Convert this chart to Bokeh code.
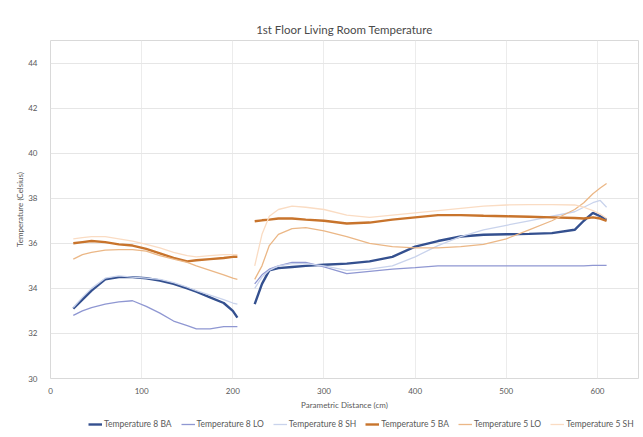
from bokeh.plotting import figure
from bokeh.models import Legend, LegendItem, Range1d, FixedTicker
from bokeh.layouts import column
from bokeh.embed import file_html
from bokeh.resources import INLINE

# Segment 1 (before the gap)
x1 = [25, 35, 45, 60, 75, 90, 105, 120, 135, 150, 160, 175, 190, 200, 205]
t8_ba_1 = [33.1, 33.5, 33.9, 34.4, 34.5, 34.5, 34.45, 34.35, 34.2, 34.0, 33.85, 33.6, 33.35, 33.0, 32.7]
t8_lo_1 = [32.8, 33.0, 33.15, 33.3, 33.4, 33.45, 33.2, 32.9, 32.55, 32.35, 32.2, 32.2, 32.3, 32.3, 32.3]
t8_sh_1 = [33.15, 33.6, 34.0, 34.45, 34.55, 34.5, 34.45, 34.4, 34.25, 34.05, 33.9, 33.7, 33.5, 33.35, 33.3]
t5_ba_1 = [36.0, 36.05, 36.1, 36.05, 35.95, 35.9, 35.75, 35.55, 35.35, 35.2, 35.25, 35.3, 35.35, 35.4, 35.4]
t5_lo_1 = [35.3, 35.5, 35.6, 35.7, 35.72, 35.72, 35.65, 35.45, 35.3, 35.15, 35.0, 34.8, 34.6, 34.45, 34.4]
t5_sh_1 = [36.2, 36.25, 36.3, 36.3, 36.2, 36.1, 35.95, 35.8, 35.6, 35.45, 35.4, 35.45, 35.5, 35.5, 35.5]

# Segment 2 (after the gap)
x2 = [224, 232, 240, 250, 265, 280, 300, 325, 350, 375, 400, 425, 450, 475, 500, 525, 550, 575, 585, 595, 603, 610]
t8_ba_2 = [33.3, 34.2, 34.8, 34.9, 34.95, 35.0, 35.05, 35.1, 35.2, 35.4, 35.85, 36.1, 36.3, 36.38, 36.4, 36.42, 36.45, 36.6, 37.0, 37.35, 37.2, 37.05]
t8_lo_2 = [34.2, 34.6, 34.85, 35.0, 35.15, 35.15, 34.95, 34.65, 34.75, 34.85, 34.92, 35.0, 35.0, 35.0, 35.0, 35.0, 35.0, 35.0, 35.0, 35.02, 35.02, 35.02]
t8_sh_2 = [34.0, 34.5, 34.8, 35.0, 35.1, 35.1, 35.0, 34.8, 34.85, 35.0, 35.4, 35.9, 36.3, 36.6, 36.8, 37.0, 37.2, 37.4, 37.6, 37.8, 37.9, 37.6]
t5_ba_2 = [36.98, 37.02, 37.05, 37.1, 37.1, 37.05, 37.0, 36.88, 36.92, 37.05, 37.15, 37.25, 37.25, 37.22, 37.2, 37.18, 37.15, 37.12, 37.1, 37.15, 37.1, 37.0]
t5_lo_2 = [34.4, 35.0, 35.9, 36.4, 36.65, 36.7, 36.55, 36.3, 36.0, 35.85, 35.8, 35.8, 35.85, 35.95, 36.2, 36.6, 37.0, 37.5, 37.8, 38.2, 38.45, 38.65]
t5_sh_2 = [35.0, 36.4, 37.2, 37.5, 37.65, 37.6, 37.5, 37.25, 37.15, 37.25, 37.35, 37.45, 37.55, 37.65, 37.7, 37.72, 37.72, 37.7, 37.6, 37.45, 37.3, 37.1]

series_names = ["Temperature 8 BA", "Temperature 8 LO", "Temperature 8 SH",
                "Temperature 5 BA", "Temperature 5 LO", "Temperature 5 SH"]

x_ticks = [0, 100, 200, 300, 400, 500, 600]
y_ticks = [30, 32, 34, 36, 38, 40, 42, 44]

colors = ["#34508f", "#8f97d2", "#c9d3ec", "#c8742c", "#ebb786", "#fadcc3"]
widths = [2.4, 1.3, 1.3, 2.4, 1.3, 1.3]

seg1 = [t8_ba_1, t8_lo_1, t8_sh_1, t5_ba_1, t5_lo_1, t5_sh_1]
seg2 = [t8_ba_2, t8_lo_2, t8_sh_2, t5_ba_2, t5_lo_2, t5_sh_2]

FONT = "Lato"
TXT = "#595959"

p = figure(frame_width=588, frame_height=338, output_backend="svg", toolbar_location=None,
           x_range=Range1d(0, 645), y_range=Range1d(30, 45),
           min_border_left=50, min_border_right=5, min_border_top=40, min_border_bottom=0,
           title="1st Floor Living Room Temperature")
p.title.align = "center"
p.title.text_font = FONT
p.title.text_font_size = "11.5px"
p.title.text_font_style = "normal"
p.title.text_color = "#4a4a4a"
p.title.offset = 0
p.title.standoff = 10

p.outline_line_color = "#d9d9d9"
p.background_fill_color = "white"
p.border_fill_color = "white"

p.xgrid.grid_line_color = "#ececec"
p.ygrid.grid_line_color = "#e6e6e6"
p.xaxis.ticker = FixedTicker(ticks=x_ticks)
p.yaxis.ticker = FixedTicker(ticks=y_ticks)

for ax in (p.xaxis[0], p.yaxis[0]):
    ax.axis_line_color = None
    ax.major_tick_line_color = None
    ax.minor_tick_line_color = None
    ax.major_tick_out = 0
    ax.major_tick_in = 0
    ax.minor_tick_out = 0
    ax.minor_tick_in = 0
    ax.major_label_text_font = FONT
    ax.major_label_text_font_size = "8px"
    ax.major_label_text_color = TXT
    ax.axis_label_text_font = FONT
    ax.axis_label_text_font_size = "8px"
    ax.axis_label_text_font_style = "normal"
    ax.axis_label_text_color = TXT

p.xaxis.axis_label = "Parametric Distance (cm)"
p.yaxis.axis_label = "Temperature (Celsius)"
p.xaxis.major_label_standoff = 9
p.xaxis.axis_label_standoff = 3
p.yaxis.major_label_standoff = 13
p.yaxis.axis_label_standoff = 0

for name, c, w, s1, s2 in zip(series_names, colors, widths, seg1, seg2):
    p.line(x1, s1, line_color=c, line_width=w)
    p.line(x2, s2, line_color=c, line_width=w)

# legend strip below the chart (legend lines sit outside the strip's visible range)
lg = figure(width=643, height=22, output_backend="svg", toolbar_location=None,
            x_axis_type=None, y_axis_type=None, min_border=0,
            x_range=Range1d(0, 1), y_range=Range1d(0, 1))
lg.outline_line_color = None
lg.xgrid.visible = False
lg.ygrid.visible = False
items = []
for name, c, w in zip(series_names, colors, widths):
    r = lg.line(x=[-5, -4], y=[-5, -5], line_color=c, line_width=w)
    items.append(LegendItem(label=name, renderers=[r]))

legend = Legend(items=items, orientation="horizontal", location=(38, 5),
                label_text_font=FONT, label_text_font_size="8.5px", label_text_color=TXT,
                label_height=9, glyph_width=14, glyph_height=8, label_standoff=2, spacing=9,
                padding=0, margin=0, border_line_color=None, background_fill_alpha=0)
lg.add_layout(legend, "center")

layout = column(p, lg, spacing=0)
open("out.html", "w").write(file_html(layout, INLINE))
